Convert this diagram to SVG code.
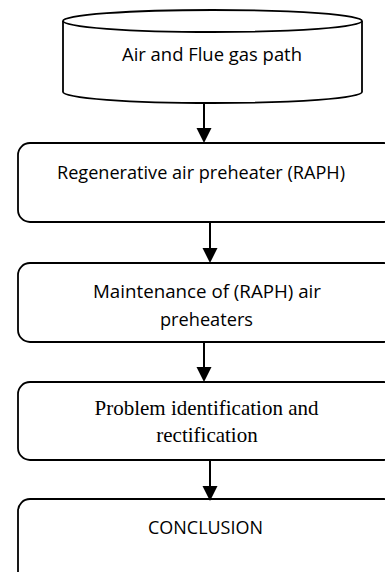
<svg xmlns="http://www.w3.org/2000/svg" width="385" height="572" viewBox="0 0 385 572">
<defs>
<style>
.shape{fill:#fff;stroke:#000;stroke-width:1.8}
.cal{font-family:"Open Sans","Liberation Sans",sans-serif;font-size:19px;fill:#000;text-anchor:middle}
.tim{font-family:"Liberation Serif","Times New Roman",serif;font-size:21px;fill:#000;text-anchor:middle}
.conn{stroke:#000;stroke-width:2;fill:none}
</style>
<marker id="ah" markerUnits="userSpaceOnUse" markerWidth="16" markerHeight="16" refX="0" refY="7.5" orient="auto" viewBox="0 0 16 15">
<path d="M0,0 L15,7.5 L0,15 z" fill="#000"/>
</marker>
</defs>
<rect width="385" height="572" fill="#fff"/>
<g id="node-cylinder">
<path class="shape" d="M63,21 L63,92 A149.5,11 0 0 0 362,92 L362,21 A149.5,11 0 0 0 63,21 Z"/>
<path class="shape" d="M63,21 A149.5,11 0 0 0 362,21" fill="none"/>
<text class="cal" x="212" y="61" textLength="180" lengthAdjust="spacingAndGlyphs">Air and Flue gas path</text>
</g>
<g id="node-raph">
<rect class="shape" x="18" y="143" width="378" height="79" rx="12"/>
<text class="cal" x="201" y="179" textLength="288" lengthAdjust="spacingAndGlyphs">Regenerative air preheater (RAPH)</text>
</g>
<g id="node-maintenance">
<rect class="shape" x="18" y="263" width="378" height="79" rx="12"/>
<text class="cal" x="207" y="298" textLength="228" lengthAdjust="spacingAndGlyphs">Maintenance of (RAPH) air</text>
<text class="cal" x="206.5" y="326" textLength="93" lengthAdjust="spacingAndGlyphs">preheaters</text>
</g>
<g id="node-problem">
<rect class="shape" x="18" y="382" width="378" height="78" rx="12"/>
<text class="tim" x="206.5" y="415">Problem identification and</text>
<text class="tim" x="207" y="442">rectification</text>
</g>
<g id="node-conclusion">
<rect class="shape" x="18" y="499" width="378" height="100" rx="12"/>
<text class="cal" x="205.5" y="534" textLength="115" lengthAdjust="spacingAndGlyphs">CONCLUSION</text>
</g>
<g id="connectors">
<path class="conn" d="M204,103 L204,128" marker-end="url(#ah)"/>
<path class="conn" d="M210,222 L210,248" marker-end="url(#ah)"/>
<path class="conn" d="M204,342 L204,367" marker-end="url(#ah)"/>
<path class="conn" d="M210,460 L210,486" marker-end="url(#ah)"/>
</g>
</svg>
